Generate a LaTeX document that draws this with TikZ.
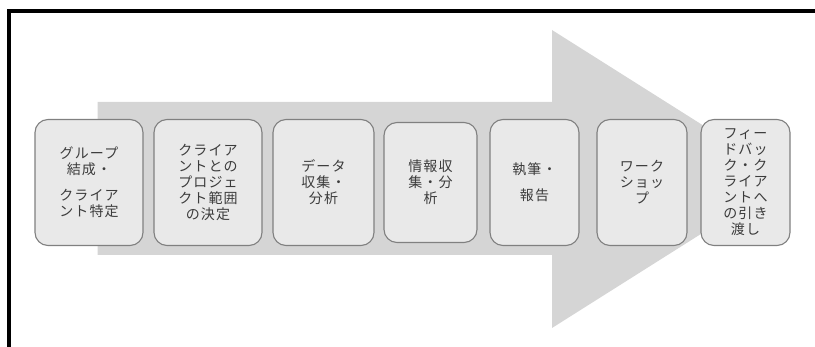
\documentclass[tikz,border=0pt]{standalone}
\usepackage{fontspec}
\usepackage{tikz}
\usetikzlibrary{positioning}
\newfontfamily\jpfont[LetterSpace=8.0]{Noto Sans CJK JP}
\definecolor{arrowgray}{HTML}{D5D5D5}
\definecolor{boxfill}{HTML}{E9E9E9}
\definecolor{boxline}{HTML}{808080}
\definecolor{textgray}{HTML}{3C3C3C}

\begin{document}
\begin{tikzpicture}[x=1pt,y=-1pt,
  phase/.style={draw=boxline,fill=boxfill,line width=1.1pt,rounded corners=13pt,
    minimum height=126pt,inner sep=0pt,align=center,text=textgray,
    font=\jpfont\fontsize{14}{16}\selectfont},
  node distance=10pt]
%\draw[help lines] (0,0) grid (815,347);
\useasboundingbox (0,0) rectangle (815,347);
\draw[line width=4.3pt] (815,11.2) -- (9,11.2) -- (9,347);
\fill[arrowgray] (97.5,102) -- (552,102) -- (552,30) -- (788,179)
  -- (552,328) -- (552,255) -- (97.5,255) -- cycle;
\node[phase,minimum width=108pt] (group)    at (89,182.5) {グループ\\結成・\\[10pt]クライア\\ント特定};
\node[phase,minimum width=108pt] (scope)    [right=9.9pt of group] {クライア\\ントとの\\プロジェ\\クト範囲\\の決定};
\node[phase,minimum width=101pt] (data)     [right=9.9pt of scope] {データ\\収集・\\分析};
\node[phase,minimum width=93pt,minimum height=120pt] (info) [right=8.9pt of data] {情報収\\集・分\\析};
\node[phase,minimum width=89pt]  (report)   [right=11.9pt of info] {執筆・\\[10pt]報告};
\node[phase,minimum width=90pt]  (workshop) [right=16.9pt of report] {ワーク\\ショッ\\プ};
\node[phase,minimum width=89pt]  (handover) [right=12.9pt of workshop] {フィー\\ドバッ\\ク・ク\\ライア\\ントへ\\の引き\\渡し};
\end{tikzpicture}
\end{document}
